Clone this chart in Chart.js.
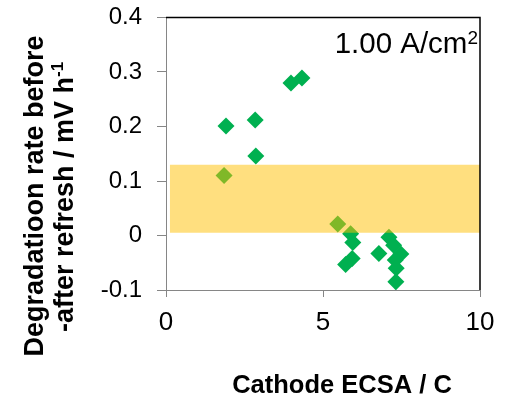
<!DOCTYPE html>
<html>
<head>
<meta charset="utf-8">
<script src="https://cdn.jsdelivr.net/npm/chart.js@4.4.1/dist/chart.umd.min.js"></script>
<style>
  html, body { margin: 0; padding: 0; background: #fff; }
  #chart { display: block; }
</style>
</head>
<body>
<canvas id="chart" width="508" height="401"></canvas>
<script>
// cathode ECSA (x) vs degradation rate difference (y)
const ecsa = [1.91, 2.84, 2.86, 1.85, 3.98, 4.33, 5.47, 5.88, 5.95, 5.93, 5.72, 6.78, 7.10, 7.25, 7.48, 7.30, 7.33, 7.32];
const rate = [0.201, 0.212, 0.146, 0.110, 0.280, 0.289, 0.021, 0.003, -0.013, -0.042, -0.053, -0.033, -0.003, -0.018, -0.034, -0.045, -0.060, -0.085];

// shaded band
const bandX = [0.12, 10];
const bandTop = 0.13;
const bandBottom = 0.005;

const xTicks = [0, 5, 10];
const yTicks = [-0.1, 0, 0.1, 0.2, 0.3, 0.4];

const xTitle = 'Cathode ECSA / C';
const yTitle1 = 'Degradatioon rate before';
const yTitle2 = '-after refresh / mV h';
const yTitleSup = '-1';
const note = '1.00 A/cm';
const noteSup = '2';

const FONT = "'Liberation Sans', Arial, sans-serif";

const points = ecsa.map((x, i) => ({ x: x, y: rate[i] }));
const band = bandX.map(x => ({ x: x, y: bandTop }));

const extras = {
    id: 'extras',
    afterDraw(chart) {
        const ctx = chart.ctx;
        const a = chart.chartArea;
        ctx.save();
        // top and right frame
        ctx.strokeStyle = '#000';
        ctx.lineWidth = 1.5;
        ctx.beginPath();
        ctx.moveTo(a.left, a.top);
        ctx.lineTo(a.right, a.top);
        ctx.lineTo(a.right, a.bottom);
        ctx.stroke();

        ctx.fillStyle = '#000';
        // current density note
        ctx.font = '29.5px ' + FONT;
        ctx.textBaseline = 'alphabetic';
        ctx.textAlign = 'left';
        const supFont = '19px ' + FONT;
        const w1 = ctx.measureText(note).width;
        ctx.font = supFont;
        const w2 = ctx.measureText(noteSup).width;
        const nx = 478 - w1 - w2;
        ctx.font = '29.5px ' + FONT;
        ctx.fillText(note, nx, 53);
        ctx.font = supFont;
        ctx.fillText(noteSup, nx + w1, 44);

        // x title
        ctx.font = 'bold 25.5px ' + FONT;
        ctx.textAlign = 'center';
        ctx.fillText(xTitle, 342, 393);

        // y title, two rotated lines
        ctx.save();
        ctx.translate(43, 196);
        ctx.rotate(-Math.PI / 2);
        ctx.font = 'bold 27px ' + FONT;
        ctx.fillText(yTitle1, 0, 0);
        ctx.restore();

        ctx.save();
        ctx.translate(73, 197);
        ctx.rotate(-Math.PI / 2);
        ctx.textAlign = 'left';
        ctx.font = 'bold 27px ' + FONT;
        const m1 = ctx.measureText(yTitle2).width;
        ctx.font = 'bold 17px ' + FONT;
        const m2 = ctx.measureText(yTitleSup).width;
        const sx = -(m1 + m2) / 2;
        ctx.font = 'bold 27px ' + FONT;
        ctx.fillText(yTitle2, sx, 0);
        ctx.font = 'bold 17px ' + FONT;
        ctx.fillText(yTitleSup, sx + m1, -10);
        ctx.restore();

        ctx.restore();
    }
};

new Chart(document.getElementById('chart'), {
    type: 'scatter',
    data: {
        datasets: [
            {
                label: 'band',
                type: 'line',
                data: band,
                order: 0,
                showLine: true,
                pointRadius: 0,
                borderWidth: 0,
                borderColor: 'rgba(0,0,0,0)',
                backgroundColor: 'rgba(255,192,0,0.5)',
                fill: { value: bandBottom }
            },
            {
                label: 'rate',
                data: points,
                order: 1,
                pointStyle: 'rectRot',
                pointRadius: 8.5,
                borderWidth: 0,
                backgroundColor: '#00B050',
                borderColor: '#00B050'
            }
        ]
    },
    options: {
        responsive: false,
        animation: false,
        layout: { autoPadding: false, padding: { top: 17.5, right: 28, left: 0, bottom: 0 } },
        plugins: {
            legend: { display: false },
            tooltip: { enabled: false }
        },
        scales: {
            x: {
                type: 'linear',
                min: 0,
                max: 10,
                afterBuildTicks(scale) { scale.ticks = xTicks.map(v => ({ value: v })); },
                afterFit(scale) { scale.height = 111; },
                ticks: {
                    color: '#000',
                    padding: 10,
                    font: { family: FONT, size: 26 }
                },
                grid: { drawOnChartArea: false, drawTicks: true, tickLength: 7, color: '#868686' },
                border: { color: '#868686', width: 1 }
            },
            y: {
                type: 'linear',
                min: -0.1,
                max: 0.4,
                afterBuildTicks(scale) { scale.ticks = yTicks.map(v => ({ value: v })); },
                afterFit(scale) {
                    scale.width = 166;
                    scale.paddingTop = 0;
                    scale.paddingBottom = 0;
                },
                ticks: {
                    color: '#000',
                    padding: 15,
                    font: { family: FONT, size: 24 }
                },
                grid: { drawOnChartArea: false, drawTicks: true, tickLength: 9, color: '#868686' },
                border: { color: '#868686', width: 1 }
            }
        }
    },
    plugins: [extras]
});
</script>
</body>
</html>
